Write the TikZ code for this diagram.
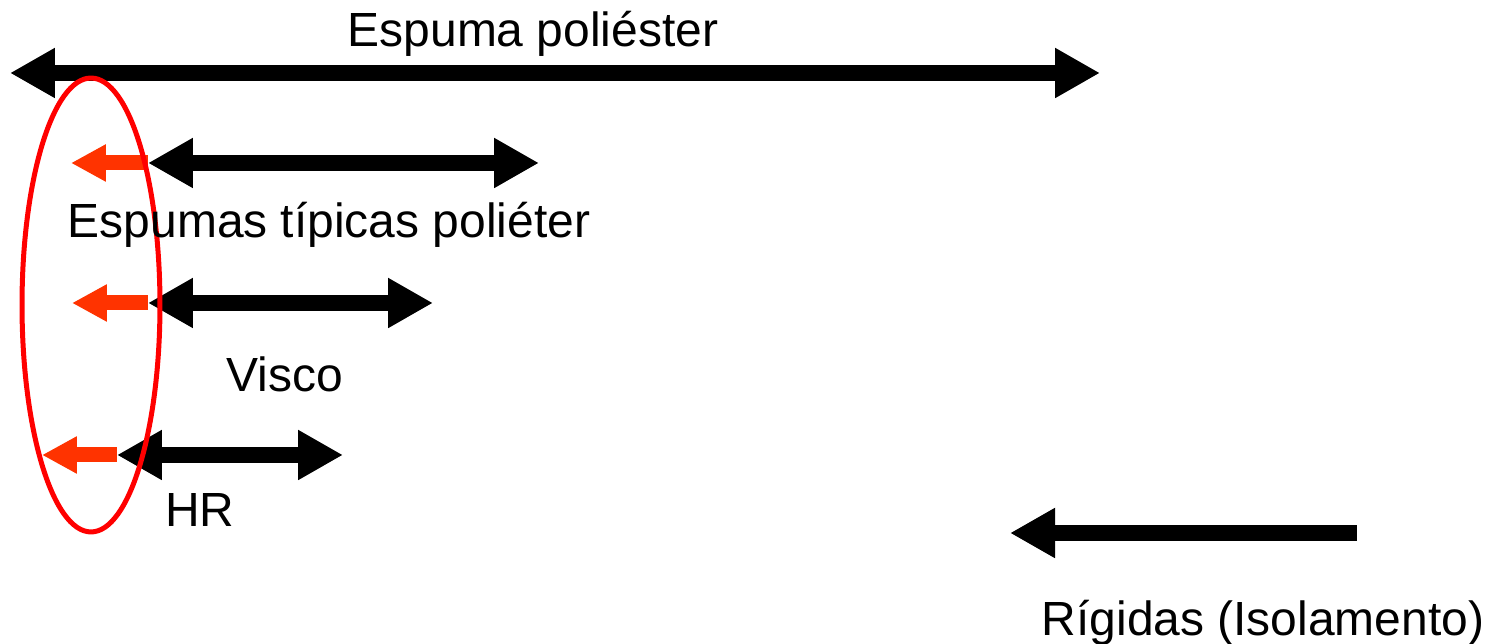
\documentclass[tikz,border=0pt]{standalone}
\usepackage{fontspec}
\setmainfont{Liberation Sans}
\usetikzlibrary{arrows.meta}

\begin{document}
\begin{tikzpicture}[x=0.02cm,y=-0.02cm,
    spanarrow/.style={line width=0.32cm,{Triangle[length=0.9cm,width=0.94cm]}-{Triangle[length=0.9cm,width=0.94cm]}},
    oneway/.style={line width=0.32cm,{Triangle[length=0.9cm,width=0.94cm]}-},
    lower/.style={color=redarrow,line width=0.3cm,{Triangle[length=0.7cm,width=0.7cm]}-},
    lbl/.style={anchor=base,inner sep=0pt,font=\fontsize{27.3}{32}\selectfont}]
      \definecolor{redarrow}{RGB}{255,51,0}
      \useasboundingbox (0,0) rectangle (1501,644);

      % ranges
      \coordinate (P0) at (10,73);    \coordinate (P1) at (1100,73);
      \coordinate (T0) at (148,163);  \coordinate (T1) at (539,163);
      \coordinate (V0) at (148,303);  \coordinate (V1) at (433,303);
      \coordinate (H0) at (117,455);  \coordinate (H1) at (343,455);
      \coordinate (R0) at (1010,533); \coordinate (R1) at (1357,533);
      \draw [spanarrow] (P0) -- (P1);
      \draw [spanarrow] (T0) -- (T1);
      \draw [spanarrow] (V0) -- (V1);
      \draw [spanarrow] (H0) -- (H1);
      \draw [oneway] (R0) -- (R1);

      % lower density
      \coordinate (t0) at (71,163);
      \coordinate (v0) at (72,303);
      \coordinate (h0) at (42,455);
      \draw [lower] (t0) -- (T0);
      \draw [lower] (v0) -- (V0);
      \draw [lower] (h0) -- (H0);

      \draw [red,line width=0.1cm] (91,305) ellipse [x radius=1.38cm,y radius=4.54cm];

      \node [lbl] (pol)  at (533,47)   {Espuma poliéster};
      \node [lbl] (tip)  at (329,238)  {Espumas típicas poliéter};
      \node [lbl] (vis)  at (285,392)  {Visco};
      \node [lbl] (hr)   at (200,527)  {HR};
      \node [lbl] (rig)  at (1263,636) {Rígidas (Isolamento)};
\end{tikzpicture}
\end{document}
